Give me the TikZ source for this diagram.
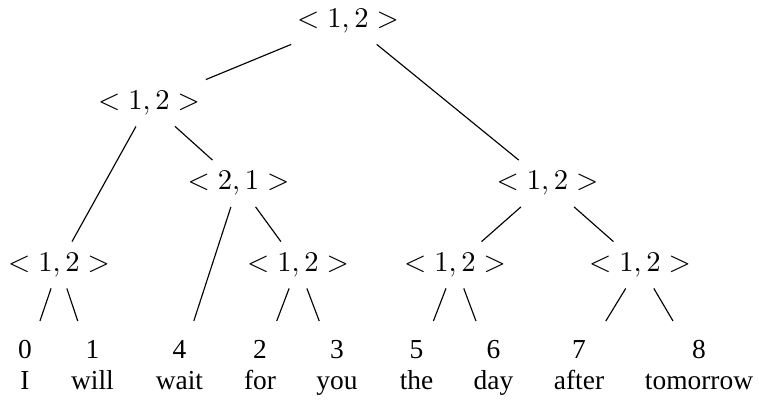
\documentclass[tikz,border=0pt]{standalone}
\usepackage{amsmath}
\usepackage[no-math]{fontspec}
\setmainfont{Liberation Serif}

\begin{document}
\begin{tikzpicture}[x=0.35pt,y=-0.35pt,
  pair/.style={inner xsep=4pt,inner ysep=3.8pt},
  leaf/.style={anchor=north,align=center,inner xsep=4pt,inner ysep=6.5pt,
    font=\fontsize{9.6}{11}\selectfont}]
\useasboundingbox (0,0) rectangle (759,399);
\node [pair] (z) at (348,21) {$<1,2>$};
\node [pair] (a) at (149,103) {$<1,2>$};
\node [pair] (b) at (547.5,183.5) {$<1,2>$};
\node [pair] (aa) at (59,265) {$<1,2>$};
\node [pair] (ab) at (238.5,183.5) {$<2,1>$};
\node [pair] (abb) at (298,265) {$<1,2>$};
\node [pair] (ba) at (455,265) {$<1,2>$};
\node [pair] (bb) at (640,265) {$<1,2>$};
\node [leaf] (w0) at (25,321) {0\\I};
\node [leaf] (w1) at (92.5,321) {1\\will};
\node [leaf] (w4) at (179.5,321) {4\\wait};
\node [leaf] (w2) at (260,321) {2\\for};
\node [leaf] (w3) at (337,321) {3\\you};
\node [leaf] (w5) at (416.5,321) {5\\the};
\node [leaf] (w6) at (493.5,321) {6\\day};
\node [leaf] (w7) at (579,321) {7\\after};
\node [leaf] (w8) at (699,321) {8\\tomorrow};
\draw (z) -- (a);
\draw (z) -- (b);
\draw (a) -- (aa);
\draw (a) -- (ab);
\draw (aa) -- (w0);
\draw (aa) -- (w1);
\draw (ab) -- (w4);
\draw (ab) -- (abb);
\draw (abb) -- (w2);
\draw (abb) -- (w3);
\draw (b) -- (ba);
\draw (b) -- (bb);
\draw (ba) -- (w5);
\draw (ba) -- (w6);
\draw (bb) -- (w7);
\draw (bb) -- (w8);
\end{tikzpicture}
\end{document}
